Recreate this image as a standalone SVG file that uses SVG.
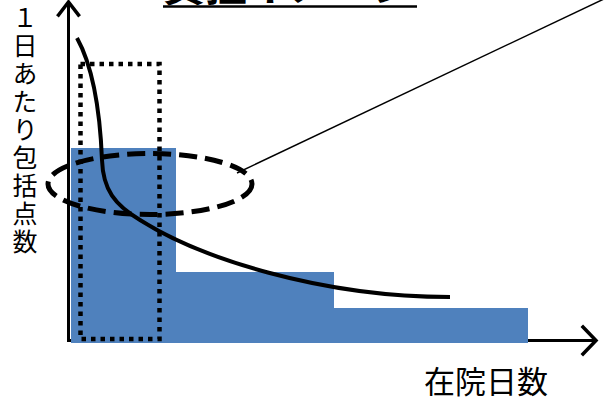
<svg xmlns="http://www.w3.org/2000/svg" width="604" height="403" viewBox="0 0 604 403">
<style>
.axis{stroke:#000;stroke-width:3;fill:none}
.head{stroke:#000;stroke-width:3.5;fill:none;stroke-linecap:square;stroke-linejoin:miter}
.bar{fill:#4F81BD}
.lbl{font-family:"Noto Sans CJK JP","Noto Sans",sans-serif;fill:#000}
</style>
<rect width="604" height="403" fill="#fff"/>
<g id="title">
<text class="lbl" x="163" y="1" font-size="42" font-weight="700">負担イメージ</text>
<line x1="163" y1="6.5" x2="417" y2="6.5" stroke="#000" stroke-width="2.5"/>
</g>
<g id="axes">
<line class="axis" x1="68.5" y1="2" x2="68.5" y2="341"/>
<polyline class="head" points="58.5,15 68.5,2 78.5,15"/>
<line class="axis" x1="67" y1="340.5" x2="595" y2="340.5"/>
<polyline class="head" points="583,327 596,340.5 583,354"/>
</g>
<g id="bars">
<rect class="bar" x="71" y="148" width="105" height="195"/>
<rect class="bar" x="175" y="272" width="159" height="71"/>
<rect class="bar" x="333" y="308" width="195" height="35"/>
</g>
<g id="dotted-box">
<rect x="80.5" y="64" width="79" height="275" fill="none" stroke="#000" stroke-width="4.5" stroke-dasharray="4.5 5"/>
</g>
<g id="connectors">
<path d="M77,38 C92,65 100,110 102,160 C103,190 115,205 140,220 C200,258 320,297 450,297" fill="none" stroke="#000" stroke-width="4"/>
<line x1="237" y1="173" x2="606" y2="-2" stroke="#000" stroke-width="1.5"/>
</g>
<g id="ellipse">
<ellipse cx="150" cy="184" rx="102" ry="30.5" fill="none" stroke="#000" stroke-width="5" stroke-dasharray="18 8"/>
</g>
<g id="y-label">
<text class="lbl" x="25" y="5" font-size="25" writing-mode="vertical-rl" letter-spacing="3">１日あたり包括点数</text>
</g>
<g id="x-label">
<text class="lbl" x="424" y="393" font-size="31">在院日数</text>
</g>
</svg>
